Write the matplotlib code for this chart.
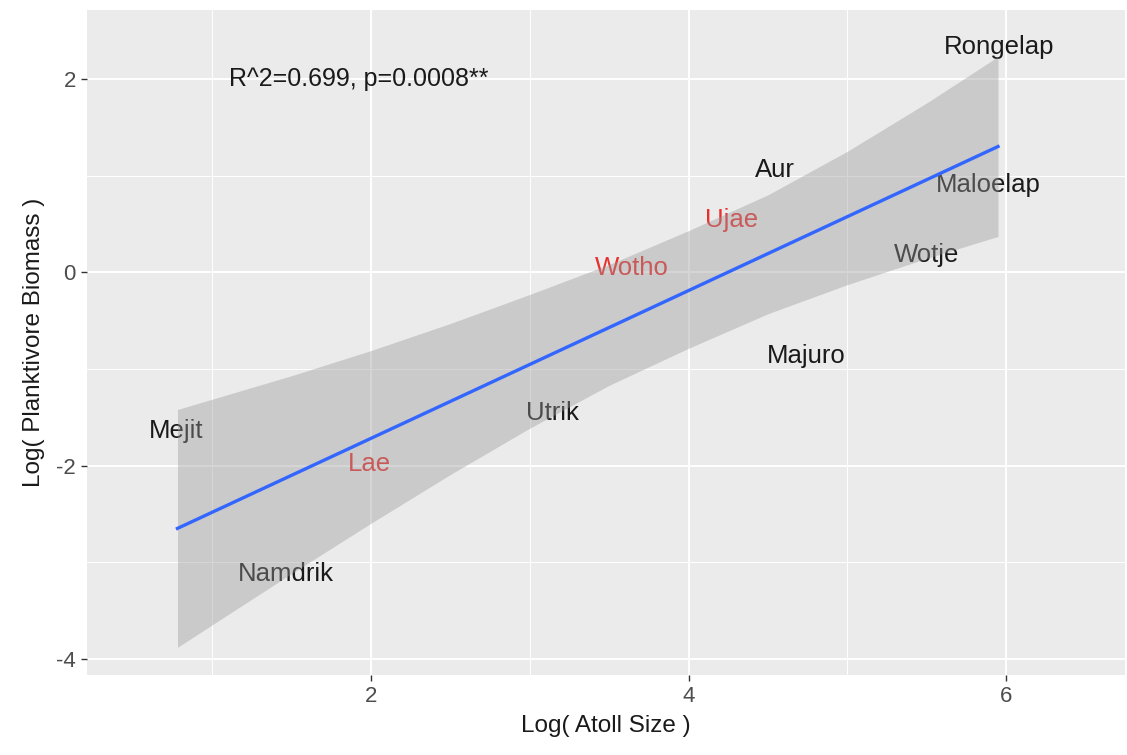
import numpy as np
import matplotlib
import matplotlib.pyplot as plt

matplotlib.use("Agg")
plt.rcParams['font.family'] = ['Liberation Sans', 'DejaVu Sans']
plt.rcParams['axes.unicode_minus'] = False

# atoll data (label position = data point)
atolls = ["Rongelap", "Aur", "Maloelap", "Ujae", "Wotje", "Wotho",
          "Majuro", "Utrik", "Mejit", "Lae", "Namdrik"]
log_size = [5.955, 4.545, 5.89, 4.27, 5.50, 3.64, 4.74, 3.14, 0.77, 1.99, 1.46]
log_biomass = [2.33, 1.055, 0.90, 0.54, 0.18, 0.04, -0.87, -1.46, -1.64, -1.98, -3.12]
label_colors = ["#1a1a1a", "#1a1a1a", "#1a1a1a", "#e8312f", "#1a1a1a", "#e8312f",
                "#1a1a1a", "#1a1a1a", "#1a1a1a", "#e8312f", "#1a1a1a"]
annotation = "R^2=0.699, p=0.0008**"

# smoother (lm fit + confidence ribbon)
smooth_x = [0.78, 1.5, 2.0, 2.5, 3.0, 3.5, 4.0, 4.5, 5.0, 5.5, 5.95]
smooth_fit = [-2.65, -2.10, -1.718, -1.336, -0.954, -0.572, -0.19, 0.192, 0.574, 0.956, 1.30]
smooth_lower = [-3.88, -3.115, -2.596, -2.092, -1.613, -1.17, -0.787, -0.43, -0.129, 0.143, 0.37]
smooth_upper = [-1.42, -1.07, -0.81, -0.53, -0.23, 0.08, 0.43, 0.80, 1.25, 1.75, 2.23]

fig = plt.figure(figsize=(11.27, 7.55), dpi=100)
ax = fig.add_axes([0.0772, 0.106, 0.921, 0.881])
ax.set_facecolor("#EBEBEB")

for name, xi, yi, c in zip(atolls, log_size, log_biomass, label_colors):
    ax.text(xi, yi, name, color=c, fontsize=18.5, ha="center", va="center", zorder=2)

# fine grid so the ribbon edges stay smooth
xs = np.linspace(smooth_x[0], smooth_x[-1], 200)
lo = np.interp(xs, smooth_x, smooth_lower)
hi = np.interp(xs, smooth_x, smooth_upper)
ax.fill_between(xs, lo, hi, color="#999999", alpha=0.4, lw=0, zorder=3)
ax.plot(smooth_x, smooth_fit, color="#3366FF", lw=2.4, zorder=4)

ax.text(1.92, 2.0, annotation, fontsize=18, ha="center", va="center",
        color="#1a1a1a", zorder=2)

ax.set_xlim(0.21, 6.75)
ax.set_ylim(-4.166, 2.714)
ax.set_xticks([2, 4, 6])
ax.set_yticks([-4, -2, 0, 2])
ax.set_xticks([1, 3, 5], minor=True)
ax.set_yticks([-3, -1, 1], minor=True)
ax.grid(which="major", color="white", lw=1.4, zorder=0)
ax.grid(which="minor", color="white", lw=0.7, zorder=0)
ax.set_axisbelow(True)
for sp in ax.spines.values():
    sp.set_visible(False)
ax.tick_params(which="major", length=4, width=1, color="#333333",
               labelcolor="#4D4D4D", labelsize=16, pad=4)
ax.tick_params(which="minor", length=0)

ax.set_xlabel("Log( Atoll Size )", fontsize=17.5, color="#1a1a1a", labelpad=6)
ax.set_ylabel("Log( Planktivore Biomass )", fontsize=17.5, color="#1a1a1a", labelpad=8)

fig.savefig("out.png", dpi=100)
plt.close(fig)
